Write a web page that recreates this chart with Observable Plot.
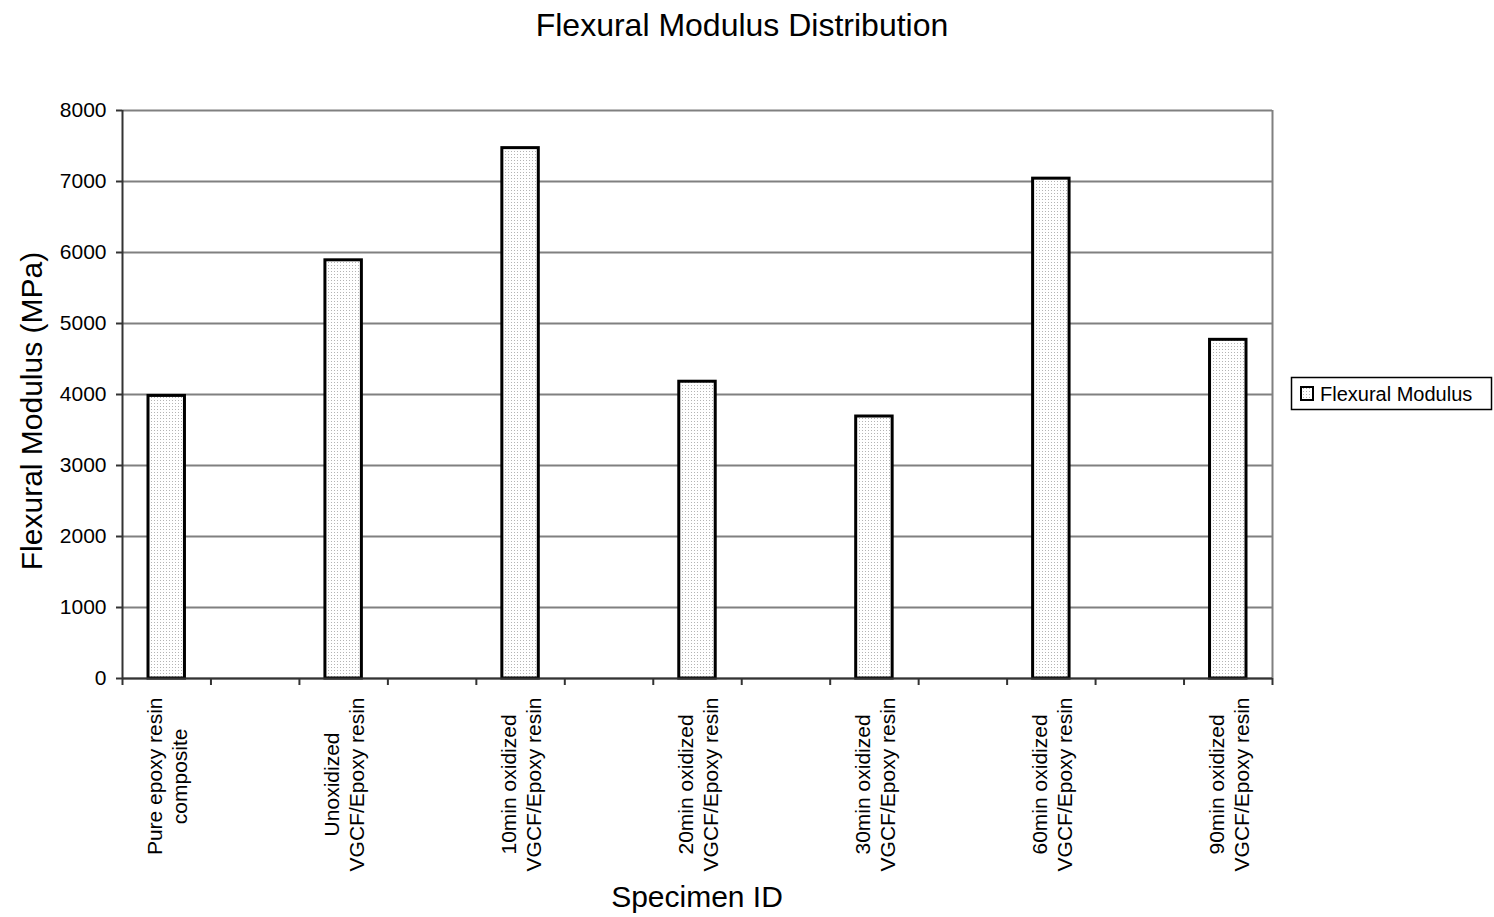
<!DOCTYPE html>
<html>
<head>
<meta charset="utf-8">
<script src="https://cdn.jsdelivr.net/npm/d3@7"></script>
<script src="https://cdn.jsdelivr.net/npm/@observablehq/plot@0.6"></script>
<style>
  body { margin: 0; background: #fff; }
  #chart { width: 1494px; height: 917px; }
</style>
</head>
<body>
<div id="chart"></div>
<script>
// Specimen names (two lines each) and their flexural modulus in MPa
const specimens = [
  "Pure epoxy resin\ncomposite",
  "Unoxidized\nVGCF/Epoxy resin",
  "10min oxidized\nVGCF/Epoxy resin",
  "20min oxidized\nVGCF/Epoxy resin",
  "30min oxidized\nVGCF/Epoxy resin",
  "60min oxidized\nVGCF/Epoxy resin",
  "90min oxidized\nVGCF/Epoxy resin"
];
const modulus = [3980, 5890, 7470, 4180, 3690, 7040, 4770];
const yTicks = [0, 1000, 2000, 3000, 4000, 5000, 6000, 7000, 8000];

const chartTitle = "Flexural Modulus Distribution";
const yTitle = "Flexural Modulus (MPa)";
const xTitle = "Specimen ID";
const legendLabel = "Flexural Modulus";

const FONT = "Arial, 'Liberation Sans', sans-serif";

// Each specimen occupies every other category slot; the slots in between are empty.
const rows = specimens.map((name, i) => ({ name, value: modulus[i], slot: i * 2 }));
const slotCount = specimens.length * 2 - 1;

const chart = Plot.plot({
  width: 1494,
  height: 917,
  marginTop: 110,
  marginBottom: 239,
  marginLeft: 122,
  marginRight: 222,
  style: { fontFamily: FONT, background: "white", color: "black", overflow: "visible" },
  x: { domain: [0, slotCount], axis: null },
  y: { domain: [0, 8000], axis: null },
  marks: [
    Plot.gridY(yTicks, { stroke: "#808080", strokeOpacity: 1, strokeWidth: 2 }),
    Plot.ruleX([slotCount], { stroke: "#808080", strokeWidth: 2 }),
    Plot.rectY(rows, {
      x1: "slot",
      x2: (d) => d.slot + 1,
      y: "value",
      fill: "url(#dots)",
      stroke: "black",
      strokeWidth: 3,
      insetLeft: 26,
      insetRight: 26
    }),
    Plot.ruleX([0], { stroke: "#333", strokeWidth: 2 }),
    Plot.ruleY([0], { stroke: "#333", strokeWidth: 2 }),
    Plot.axisY(yTicks, {
      tickSize: 6,
      tickPadding: 10,
      tickFormat: "d",
      fontSize: 21,
      stroke: "#333",
      strokeWidth: 2,
      label: null
    }),
    Plot.axisX(d3.range(slotCount + 1), {
      tickSize: 7,
      tickFormat: () => "",
      stroke: "#333",
      strokeWidth: 2,
      label: null
    }),
    Plot.text(rows, {
      x: (d) => d.slot + 0.5,
      text: "name",
      frameAnchor: "bottom",
      rotate: -90,
      textAnchor: "end",
      lineAnchor: "middle",
      lineHeight: 1.2,
      dy: 19,
      fontSize: 21,
      className: "specimen-labels"
    })
  ]
});

document.getElementById("chart").appendChild(chart);

const svg = d3.select(chart);

// Fine dotted fill used by the bars and the legend swatch
const defs = svg.insert("defs", ":first-child");
const pat = defs.append("pattern")
  .attr("id", "dots")
  .attr("patternUnits", "userSpaceOnUse")
  .attr("width", 3)
  .attr("height", 3);
pat.append("rect").attr("width", 3).attr("height", 3).attr("fill", "white");
pat.append("rect").attr("x", 1).attr("y", 1).attr("width", 1).attr("height", 1).attr("fill", "#b4b4b4");

// Center the two lines of each rotated specimen label on each other
svg.selectAll("g.specimen-labels text").each(function () {
  const spans = this.querySelectorAll("tspan");
  const lines = spans.length ? Array.from(spans) : [this];
  const longest = d3.max(lines, (s) => s.getComputedTextLength());
  this.setAttribute("text-anchor", "middle");
  lines.forEach((s) => s.setAttribute("x", -longest / 2));
});

// Chart title
svg.append("text")
  .attr("x", 742)
  .attr("y", 36)
  .attr("text-anchor", "middle")
  .attr("font-family", FONT)
  .attr("font-size", 32)
  .attr("fill", "black")
  .text(chartTitle);

// Axis titles
svg.append("text")
  .attr("transform", "translate(42,411) rotate(-90)")
  .attr("text-anchor", "middle")
  .attr("font-family", FONT)
  .attr("font-size", 30)
  .attr("fill", "black")
  .text(yTitle);

svg.append("text")
  .attr("x", 697)
  .attr("y", 907)
  .attr("text-anchor", "middle")
  .attr("font-family", FONT)
  .attr("font-size", 30)
  .attr("fill", "black")
  .text(xTitle);

// Legend
const legend = svg.append("g");
legend.append("rect")
  .attr("x", 1291.5).attr("y", 377.5)
  .attr("width", 200).attr("height", 32)
  .attr("fill", "white").attr("stroke", "black").attr("stroke-width", 1.5);
legend.append("rect")
  .attr("x", 1301).attr("y", 387)
  .attr("width", 12).attr("height", 13)
  .attr("fill", "url(#dots)").attr("stroke", "black").attr("stroke-width", 2);
legend.append("text")
  .attr("x", 1320).attr("y", 401)
  .attr("text-anchor", "start")
  .attr("font-family", FONT).attr("font-size", 20).attr("fill", "black")
  .text(legendLabel);
</script>
</body>
</html>
